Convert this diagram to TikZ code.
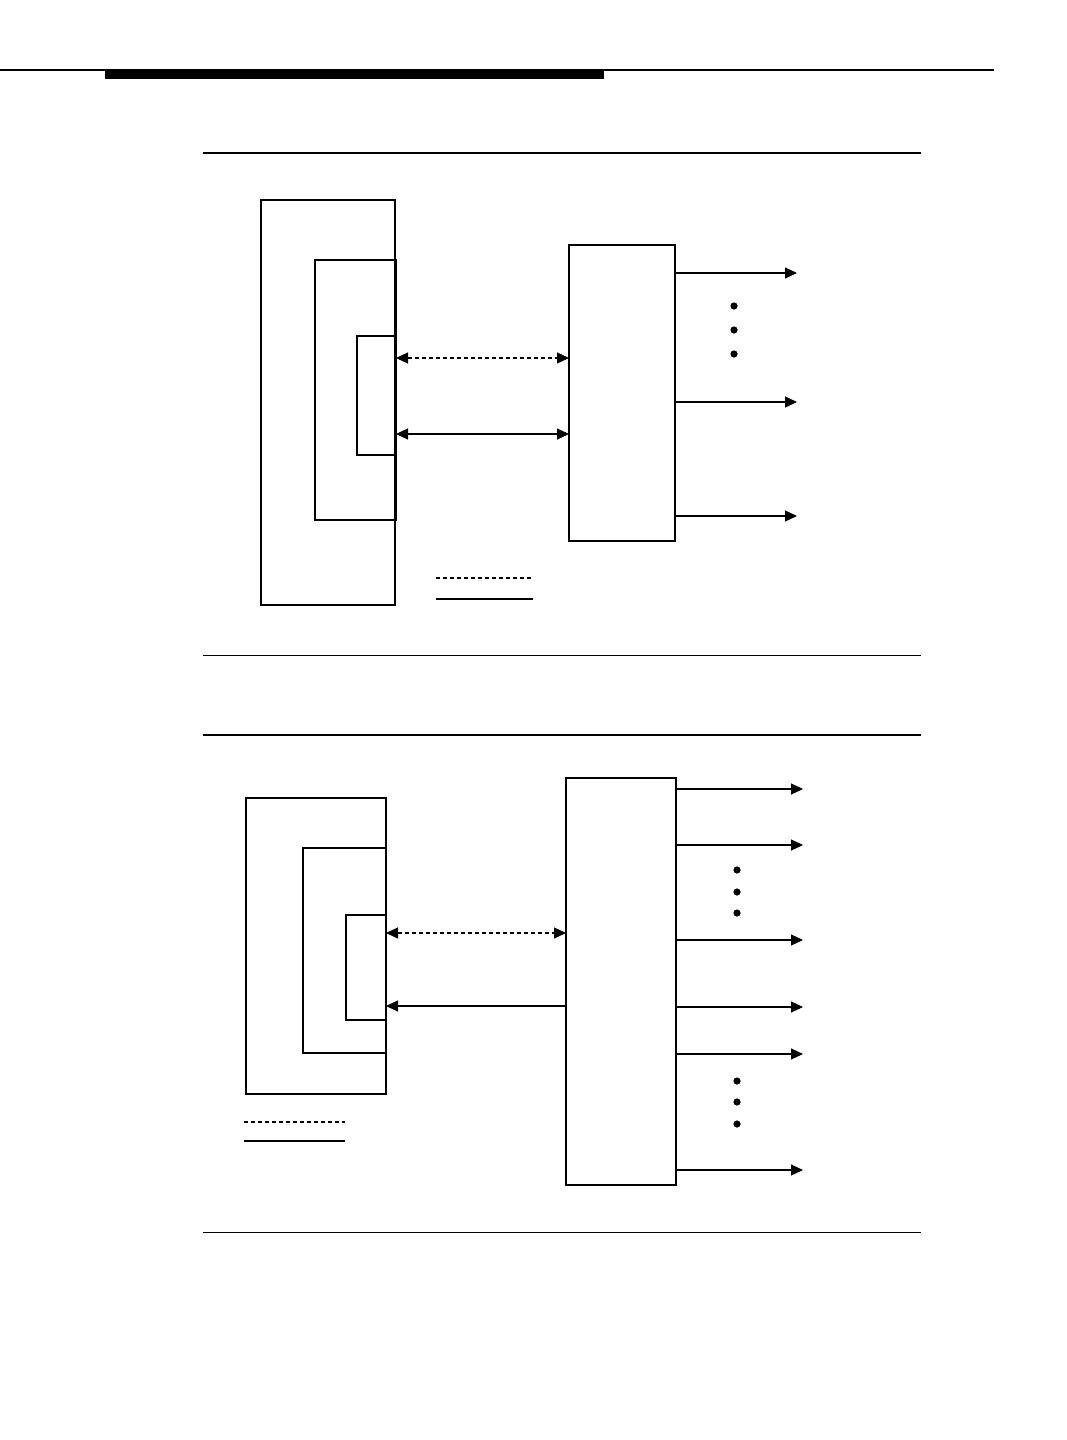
\documentclass[tikz,border=0pt]{standalone}
\usetikzlibrary{arrows.meta}

\begin{document}
\begin{tikzpicture}[x=1pt, y=-1pt, >={Triangle[length=12pt,width=11pt]},
    box/.style={draw, line width=1.2pt, inner sep=0pt, outer sep=0pt, anchor=north west},
    frame/.style={box, line width=1.8pt},
    link/.style={line width=1.1pt},
    dashlink/.style={link, dash pattern=on 4pt off 3pt},
    rulethick/.style={line width=1.8pt},
    rulethin/.style={line width=1pt}]
    \useasboundingbox (0,0) rectangle (1066,1440);

    % page header
    \draw[line width=1.4pt] (0,70) -- (994,70);
    \fill (105,70) rectangle (604,79);

    % upper figure
    \draw[rulethick] (203,153) -- (921,153);
    \draw[rulethin] (203,655) -- (921,655);

    \node[frame, minimum width=134pt, minimum height=405pt] (outerA) at (261,200) {};
    \node[box, minimum width=81pt, minimum height=260pt] (midA) at (315,260) {};
    \node[box, minimum width=39pt, minimum height=119pt] (innerA) at (357,336) {};
    \node[box, minimum width=106pt, minimum height=296pt] (boxA) at (569,245) {};

    \draw[dashlink, <->] (innerA.east |- 0,358) -- (boxA.west |- 0,358);
    \draw[link, <->] (innerA.east |- 0,434) -- (boxA.west |- 0,434);

    \foreach \y [count=\i] in {273,402,516} {
      \coordinate (outA\i) at (797,\y);
      \draw[link, ->] (boxA.east |- outA\i) -- (outA\i);
    }
    \foreach \y in {306,330,354}
      \fill (734,\y) circle (3.6pt);

    \draw[dashlink] (436,578) -- (533,578);
    \draw[link] (436,599) -- (533,599);

    % lower figure
    \draw[rulethick] (203,735) -- (921,735);
    \draw[rulethin] (203,1232) -- (921,1232);

    \node[frame, minimum width=140pt, minimum height=296pt] (outerB) at (246,798) {};
    \node[box, minimum width=83pt, minimum height=205pt] (midB) at (303,848) {};
    \node[box, minimum width=40pt, minimum height=105pt] (innerB) at (346,915) {};
    \node[frame, minimum width=110pt, minimum height=407pt] (boxB) at (566,778) {};

    \draw[dashlink, <->] (innerB.east |- 0,933) -- (boxB.west |- 0,933);
    \draw[link, ->] (boxB.west |- 0,1006) -- (innerB.east |- 0,1006);

    \foreach \y [count=\i] in {789,845,940,1007,1054,1170} {
      \coordinate (outB\i) at (803,\y);
      \draw[link, ->] (boxB.east |- outB\i) -- (outB\i);
    }
    \foreach \y in {870,892,913,1081,1102,1124}
      \fill (737,\y) circle (3.6pt);

    \draw[dashlink] (244,1122) -- (345,1122);
    \draw[link] (244,1141) -- (345,1141);
\end{tikzpicture}
\end{document}
